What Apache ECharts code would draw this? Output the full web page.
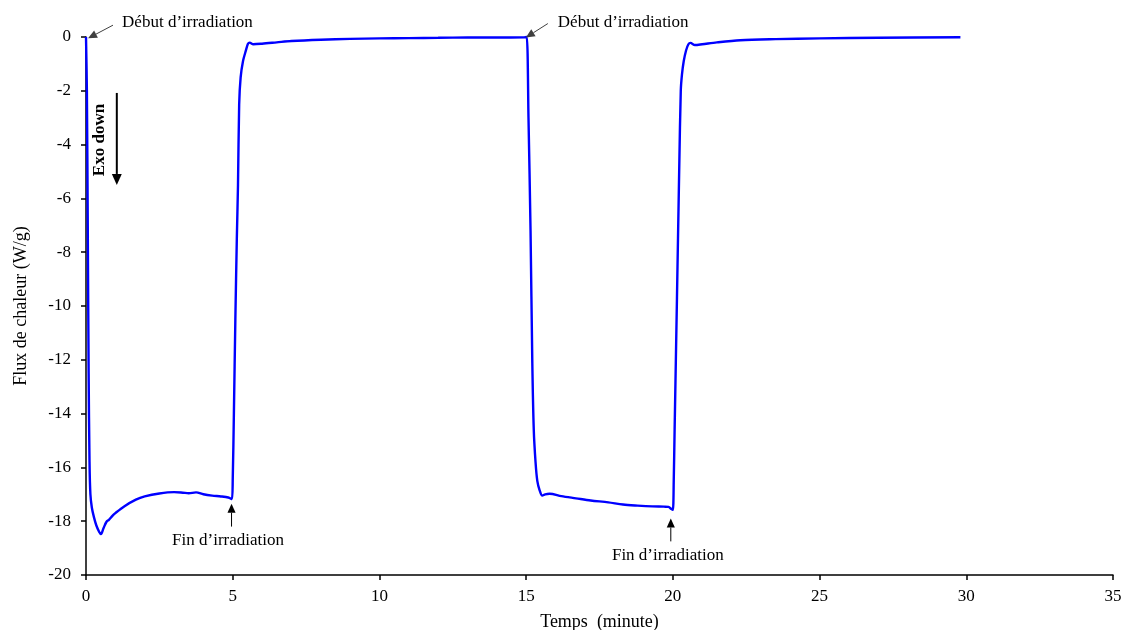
<!DOCTYPE html>
<html>
<head>
<meta charset="utf-8">
<script src="https://cdn.jsdelivr.net/npm/echarts@6/dist/echarts.min.js"></script>
<style>
html,body{margin:0;padding:0;background:#fff;}
#chart{width:1123px;height:630px;}
</style>
</head>
<body>
<div id="chart"></div>
<script>
// Time (minutes)
var timeMin = [
  0, 0.03, 0.06, 0.09, 0.12, 0.15, 0.2, 0.27, 0.35, 0.45, 0.51, 0.6, 0.7, 0.78, 0.9,
  1.0, 1.3, 1.7, 2.0, 2.5, 3.0, 3.3, 3.5, 3.75, 4.0, 4.3, 4.6, 4.85, 4.97,
  5.0, 5.04, 5.09, 5.14, 5.18, 5.22, 5.27, 5.35, 5.45, 5.52, 5.58, 5.7,
  6.0, 6.5, 7.0, 8.0, 9.0, 10, 11, 12, 13, 14, 14.95,
  15.02, 15.08, 15.15, 15.21, 15.26, 15.32, 15.38, 15.46, 15.55, 15.65, 15.8,
  16.2, 16.7, 17.2, 17.8, 18.3, 18.8, 19.3, 19.7, 19.85, 19.95, 20.0,
  20.03, 20.06, 20.14, 20.22, 20.27, 20.31, 20.37, 20.45, 20.53, 20.6, 20.75,
  21, 21.5, 22.3, 23.5, 25, 27, 29.8
];
// Heat flow (W/g)
var heatFlow = [
  0, -2, -7, -12.5, -15.8, -17.0, -17.5, -17.85, -18.15, -18.4, -18.48, -18.25, -18.02, -17.95, -17.8,
  -17.7, -17.45, -17.2, -17.08, -16.97, -16.92, -16.94, -16.96, -16.93, -17.0, -17.05, -17.08, -17.12, -17.18,
  -16.5, -14.0, -10.5, -7.5, -5.5, -2.5, -1.5, -0.9, -0.5, -0.25, -0.21, -0.27,
  -0.25, -0.2, -0.15, -0.1, -0.07, -0.05, -0.04, -0.03, -0.02, -0.02, -0.01,
  0, -3, -7.2, -12.1, -14.6, -15.8, -16.5, -16.85, -17.05, -17.0, -16.98,
  -17.07, -17.15, -17.23, -17.3, -17.38, -17.42, -17.45, -17.46, -17.47, -17.55, -17.58,
  -16.5, -14.6, -9.7, -4.7, -2.0, -1.4, -0.9, -0.5, -0.27, -0.22, -0.3,
  -0.27, -0.2, -0.12, -0.08, -0.05, -0.03, -0.01
];
var xTicks = [0, 5, 10, 15, 20, 25, 30, 35];
var yTicks = [0, -2, -4, -6, -8, -10, -12, -14, -16, -18, -20];

// Annotations (data coordinates)
var annoTexts = ["D\u00e9but d\u2019irradiation", "D\u00e9but d\u2019irradiation", "Fin d\u2019irradiation", "Fin d\u2019irradiation"];
var annoTextPos = [[1.23, 0.52], [16.08, 0.52], [4.84, -18.72], [19.83, -19.28]];
var annoTextAlign = ["left", "left", "center", "center"];
var arrowFrom = [[0.92, 0.44], [15.74, 0.5], [4.96, -18.2], [19.93, -18.75]];
var arrowTo = [[0.07, -0.05], [14.99, -0.02], [4.96, -17.35], [19.93, -17.9]];
var exoText = "Exo down";
var exoTextPos = [0.48, -3.83];
var exoArrowFrom = [1.05, -2.08];
var exoArrowTo = [1.05, -5.5];

var FONT = "'Liberation Serif', 'Times New Roman', serif";
var chart = echarts.init(document.getElementById('chart'));
var data = timeMin.map(function (t, i) { return [t, heatFlow[i]]; });

chart.setOption({
  animation: false,
  backgroundColor: '#fff',
  grid: { left: 86, right: 10, top: 37, bottom: 55, containLabel: false, outerBoundsMode: 'none' },
  xAxis: {
    type: 'value', min: 0, max: 35, interval: 5,
    name: 'Temps  (minute)', nameLocation: 'middle', nameGap: 38,
    nameTextStyle: { fontFamily: FONT, fontSize: 18, color: '#000' },
    axisLine: { show: true, onZero: false, lineStyle: { color: '#000', width: 1.5 } },
    axisTick: { show: true, inside: false, length: 5, lineStyle: { color: '#000', width: 1.5 } },
    axisLabel: { fontFamily: FONT, fontSize: 17, color: '#000', margin: 13,
      formatter: function (v) { return xTicks.indexOf(v) >= 0 ? String(v) : ''; } },
    splitLine: { show: false }
  },
  yAxis: {
    type: 'value', min: -20, max: 0, interval: 2,
    name: 'Flux de chaleur (W/g)', nameLocation: 'middle', nameGap: 56, nameRotate: 90,
    nameTextStyle: { fontFamily: FONT, fontSize: 18, color: '#000' },
    axisLine: { show: true, onZero: false, lineStyle: { color: '#000', width: 1.5 } },
    axisTick: { show: true, inside: false, length: 5, lineStyle: { color: '#000', width: 1.5 } },
    axisLabel: { fontFamily: FONT, fontSize: 17, color: '#000', margin: 15,
      formatter: function (v) { return yTicks.indexOf(v) >= 0 ? String(v) : ''; } },
    splitLine: { show: false }
  },
  series: [{
    type: 'line', data: data, showSymbol: false, smooth: 0.3, clip: false,
    lineStyle: { color: '#0000FF', width: 2.4 }, itemStyle: { color: '#0000FF' }
  }]
});

function px(p) { return chart.convertToPixel({ gridIndex: 0 }, p); }
var graphics = [];
function arrow(a, b, color, w, head) {
  var pa = px(a), pb = px(b);
  var ang = Math.atan2(pb[1] - pa[1], pb[0] - pa[0]);
  var hl = head, hw = head * 0.45;
  var bx = pb[0] - hl * Math.cos(ang), by = pb[1] - hl * Math.sin(ang);
  graphics.push({ type: 'line', shape: { x1: pa[0], y1: pa[1], x2: bx, y2: by }, style: { stroke: color, lineWidth: w }, z: 100 });
  graphics.push({ type: 'polygon', shape: { points: [
    [pb[0], pb[1]],
    [bx + hw * Math.sin(ang), by - hw * Math.cos(ang)],
    [bx - hw * Math.sin(ang), by + hw * Math.cos(ang)]
  ] }, style: { fill: color }, z: 100 });
}
for (var i = 0; i < annoTexts.length; i++) {
  var p = px(annoTextPos[i]);
  graphics.push({ type: 'text', x: p[0], y: p[1], style: { text: annoTexts[i], font: '17px ' + FONT, fill: '#000', align: annoTextAlign[i], verticalAlign: 'middle' }, z: 100 });
  arrow(arrowFrom[i], arrowTo[i], i < 2 ? '#404040' : '#000', 1, 9);
}
var pe = px(exoTextPos);
graphics.push({ type: 'text', x: pe[0], y: pe[1], rotation: Math.PI / 2, style: { text: exoText, font: 'bold 17px ' + FONT, fill: '#000', align: 'center', verticalAlign: 'middle' }, z: 100 });
arrow(exoArrowFrom, exoArrowTo, '#000', 2, 11);
chart.setOption({ graphic: graphics });
</script>
</body>
</html>
